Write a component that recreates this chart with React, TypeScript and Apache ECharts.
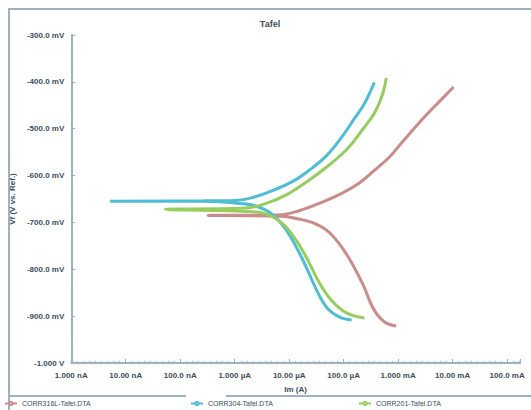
import React, { useEffect, useRef } from "react";
import * as echarts from "echarts";

// Current (A) and potential (V), in sweep order
const redCurrent = [9.2e-4, 5.56e-4, 3.51e-4, 2.31e-4, 1.4e-4, 8.45e-5, 4.91e-5, 2.62e-5, 1.4e-5, 7.46e-6, 3.23e-7, 6.05e-6, 1.52e-5, 3.98e-5, 9.2e-5, 1.88e-4, 3.66e-4, 6.85e-4, 1.14e-3, 2.97e-3, 6.05e-3, 1.04e-2];
const redPotential = [-0.921, -0.912, -0.884, -0.835, -0.786, -0.747, -0.717, -0.7, -0.692, -0.687, -0.685, -0.684, -0.675, -0.657, -0.638, -0.617, -0.589, -0.561, -0.531, -0.476, -0.439, -0.411];

const cyanCurrent = [1.4e-4, 8.45e-5, 4.91e-5, 3.23e-5, 2.12e-5, 1.4e-5, 8.45e-6, 4.91e-6, 2.62e-6, 1.4e-6, 2.63e-7, 5.13e-9, 2.63e-7, 1.04e-6, 2.12e-6, 4.91e-6, 1.14e-5, 2.31e-5, 4.91e-5, 9.2e-5, 1.58e-4, 2.41e-4, 3.66e-4];
const cyanPotential = [-0.908, -0.902, -0.882, -0.846, -0.799, -0.756, -0.713, -0.683, -0.666, -0.66, -0.655, -0.655, -0.654, -0.653, -0.647, -0.632, -0.613, -0.589, -0.557, -0.518, -0.478, -0.446, -0.401];

const greenCurrent = [2.41e-4, 1.13e-4, 6.05e-5, 3.66e-5, 2.12e-5, 1.29e-5, 7.46e-6, 3.98e-6, 2.12e-6, 5.33e-8, 1.4e-6, 3.66e-6, 9.2e-6, 2.31e-5, 5.33e-5, 1.23e-4, 2.31e-4, 3.66e-4, 5.12e-4, 6.05e-4];
const greenPotential = [-0.904, -0.893, -0.867, -0.831, -0.777, -0.735, -0.702, -0.683, -0.677, -0.672, -0.67, -0.66, -0.64, -0.61, -0.578, -0.54, -0.499, -0.467, -0.428, -0.392];

const seriesNames = ["CORR316L-Tafel.DTA", "CORR304-Tafel.DTA", "CORR201-Tafel.DTA"];
const xTickLabels = ["1.000 nA", "10.00 nA", "100.0 nA", "1.000 µA", "10.00 µA", "100.0 µA", "1.000 mA", "10.00 mA", "100.0 mA"];
const titleText = "Tafel";
const xAxisName = "Im (A)";
const yAxisName = "Vf (V vs. Ref.)";

const toPoints = (cur: number[], pot: number[]) => cur.map((c, i) => [Math.log10(c), pot[i]]);

export default function App() {
  const ref = useRef<HTMLDivElement>(null);
  useEffect(() => {
    if (!ref.current) return;
    const chart = echarts.init(ref.current, null, { renderer: "svg" });
    const frame = "#9db2c1";
    const lbl = "#3c4d5c";
    const mk = (name: string, color: string, cur: number[], pot: number[]) => ({
      name,
      type: "line",
      data: toPoints(cur, pot),
      showSymbol: false,
      smooth: 0.4,
      lineStyle: { color, width: 3 },
      itemStyle: { color },
    });
    const legendBase = {
      top: 399,
      padding: 0,
      itemWidth: 12,
      itemHeight: 4,
      textStyle: { fontSize: 7, color: lbl, lineHeight: 9 },
    };
    chart.setOption({
      animation: false,
      backgroundColor: "#ffffff",
      title: {
        text: titleText,
        left: 265,
        textAlign: "center",
        top: 14,
        textStyle: { fontSize: 9, fontWeight: "bold", color: lbl, fontFamily: "Liberation Sans" },
      },
      grid: { left: 67, right: 11, top: 35, bottom: 47 },
      legend: [
        { ...legendBase, data: [seriesNames[0]], left: 4 },
        { ...legendBase, data: [seriesNames[1]], left: 190 },
        { ...legendBase, data: [seriesNames[2]], left: 358 },
      ],
      xAxis: {
        type: "value",
        min: -9,
        max: -0.764,
        interval: 1,
        name: xAxisName,
        nameLocation: "middle",
        nameGap: 22,
        nameTextStyle: { fontSize: 8, color: lbl, fontWeight: "bold" },
        axisLine: { show: true, lineStyle: { color: frame, width: 2 } },
        axisTick: { show: true, inside: true, length: 4, lineStyle: { color: frame } },
        minorTick: { show: true, splitNumber: 9, length: 2, lineStyle: { color: frame } },
        splitLine: { show: false },
        axisLabel: {
          fontSize: 8,
          color: lbl,
          fontWeight: "bold",
          showMaxLabel: false,
          formatter: (v: number) => {
            const i = Math.round(v + 9);
            return Math.abs(v + 9 - i) < 1e-6 && i >= 0 && i < xTickLabels.length ? xTickLabels[i] : "";
          },
        },
      },
      yAxis: {
        type: "value",
        min: -1.0,
        max: -0.3,
        interval: 0.1,
        name: yAxisName,
        nameLocation: "middle",
        nameGap: 52,
        nameRotate: 90,
        nameTextStyle: { fontSize: 8, color: lbl, fontWeight: "bold" },
        axisLine: { show: true, lineStyle: { color: frame, width: 2 } },
        axisTick: { show: true, inside: true, length: 4, lineStyle: { color: frame } },
        minorTick: { show: true, splitNumber: 5, length: 2, lineStyle: { color: frame } },
        splitLine: { show: false },
        axisLabel: {
          fontSize: 8,
          color: lbl,
          fontWeight: "bold",
          margin: 7,
          formatter: (v: number) => (Math.abs(v) >= 0.9995 ? `${v.toFixed(3)} V` : `${(v * 1000).toFixed(1)} mV`),
        },
      },
      graphic: [
        { type: "line", shape: { x1: 8, y1: 9, x2: 531, y2: 9 }, style: { stroke: frame, lineWidth: 2 } },
        { type: "line", shape: { x1: 9, y1: 8, x2: 9, y2: 410 }, style: { stroke: frame, lineWidth: 2 } },
        { type: "line", shape: { x1: 8, y1: 396, x2: 186, y2: 396 }, style: { stroke: frame, lineWidth: 2 } },
        { type: "line", shape: { x1: 226, y1: 396, x2: 531, y2: 396 }, style: { stroke: frame, lineWidth: 2 } },
      ],
      series: [
        mk(seriesNames[0], "#c98b8b", redCurrent, redPotential),
        mk(seriesNames[1], "#4fbdd3", cyanCurrent, cyanPotential),
        mk(seriesNames[2], "#97cd5f", greenCurrent, greenPotential),
      ],
    });
    return () => chart.dispose();
  }, []);
  return <div ref={ref} style={{ position: "fixed", left: 0, top: 0, width: 531, height: 410 }} />;
}
